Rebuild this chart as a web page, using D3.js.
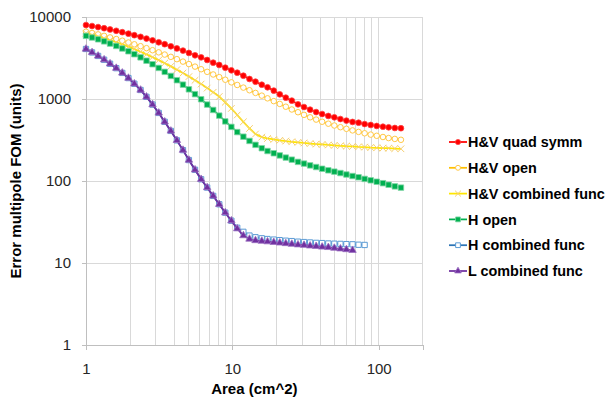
<!DOCTYPE html>
<html><head><meta charset="utf-8">
<script src="https://cdn.jsdelivr.net/npm/d3@7"></script>
<style>body{margin:0;background:#fff}svg{display:block}text{font-family:"Liberation Sans",Arial,sans-serif}</style>
</head><body><svg id="c" width="610" height="399"></svg>
<script>
const areas = [1, 1.1, 1.21, 1.33, 1.46, 1.61, 1.77, 1.95, 2.14, 2.36, 2.59, 2.85, 3.14, 3.45, 3.8, 4.18, 4.6, 5.05, 5.56, 6.12, 6.73, 7.4, 8.14, 8.95, 9.85, 10.8, 11.9, 13.1, 14.4, 15.9, 17.4, 19.2, 21.1, 23.2, 25.5, 28.1, 30.9, 34, 37.4, 41.1, 45.3, 49.8, 54.8, 60.2, 66.3, 72.9, 80.2, 88.2, 97, 107, 117, 129, 142];
const seriesNames = ["H&V quad symm", "H&V open", "H&V combined func", "H open", "H combined func", "L combined func"];
const hvQuadSymm = [7980, 7762, 7534, 7295, 7047, 6792, 6531, 6266, 5998, 5728, 5458, 5188, 4920, 4656, 4395, 4140, 3890, 3648, 3412, 3221, 2992, 2773, 2600, 2410, 2239, 2094, 1923, 1754, 1626, 1493, 1390, 1265, 1140, 1038, 955, 861, 798, 741, 693, 656, 621, 598, 570, 545, 525, 514, 495, 482, 469, 459, 452, 443, 440];
const hvOpen = [6622, 6383, 6138, 5888, 5636, 5383, 5140, 4887, 4645, 4406, 4169, 3936, 3707, 3483, 3266, 3062, 2858, 2667, 2483, 2307, 2143, 1991, 1849, 1718, 1596, 1483, 1377, 1279, 1186, 1099, 1019, 942, 871, 805, 745, 690, 641, 598, 561, 528, 500, 475, 453, 433, 414, 397, 382, 368, 356, 344, 334, 326, 318];
const hvCombined = [6324, 6053, 5781, 5495, 5212, 4920, 4634, 4345, 4055, 3776, 3499, 3236, 2979, 2735, 2500, 2280, 2070, 1875, 1690, 1521, 1358, 1208, 1072, 912, 767, 638, 527, 437, 374, 343, 330, 321, 313, 307, 301, 296, 291, 286, 282, 279, 275, 272, 269, 266, 264, 261, 259, 256, 254, 252, 251, 249, 247];
const hOpen = [5888, 5623, 5346, 5047, 4742, 4436, 4130, 3819, 3516, 3221, 2931, 2655, 2393, 2143, 1910, 1694, 1496, 1312, 1146, 993, 855, 735, 627, 533, 457, 395, 347, 308, 276, 251, 232, 218, 205, 193, 182, 171, 163, 155, 148, 141, 135, 130, 125, 120, 115, 111, 106, 102, 98, 94, 90, 86, 83];
const hCombined = [4074, 3698, 3350, 3013, 2692, 2377, 2080, 1799, 1535, 1288, 1062, 855, 676, 527, 408, 313, 238, 180, 137, 105, 83.2, 65.8, 52.0, 41.1, 32.8, 26.9, 24.0, 21.6, 20.6, 20.0, 19.6, 19.3, 19.0, 18.7, 18.5, 18.2, 18.0, 17.8, 17.6, 17.5, 17.3, 17.2, 17.1, 17.0, 16.9, 16.7, 16.6];
const lCombined = [4074, 3698, 3350, 3013, 2692, 2377, 2080, 1799, 1535, 1288, 1062, 855, 676, 527, 408, 313, 238, 180, 137, 105, 83.2, 65.8, 52.0, 41.1, 32.8, 26.2, 21.6, 19.6, 18.8, 18.5, 18.2, 17.9, 17.6, 17.3, 17.0, 16.7, 16.5, 16.2, 16.0, 15.7, 15.5, 15.2, 14.9, 14.6, 14.3];
const yTicks = [1, 10, 100, 1000, 10000];
const xTicks = [1, 10, 100];
const xGrid = [1,2,3,4,5,6,7,8,9,10,20,30,40,50,60,70,80,90,100,200];

const allValues = [hvQuadSymm, hvOpen, hvCombined, hOpen, hCombined, lCombined];
const styles = [
  {line:"#FF0000", shape:d3.symbolCircle, size:26, fill:"#FF0000", stroke:"#FF4040", sw:0.8},
  {line:"#FFC000", shape:d3.symbolCircle, size:24, fill:"#FFFFFF", stroke:"#FFC845", sw:1},
  {line:"#FFE600", shape:d3.symbolX, size:30, fill:"none", stroke:"#F6CF70", sw:1},
  {line:"#00B050", shape:d3.symbolSquare, size:30, fill:"#00B050", stroke:"#7FD6A3", sw:0.8},
  {line:"#2E75B6", shape:d3.symbolSquare, size:28, fill:"#FFFFFF", stroke:"#5B9BD5", sw:1},
  {line:"#7030A0", shape:d3.symbolTriangle, size:24, fill:"#7030A0", stroke:"#9A6FC0", sw:0.8}
];

const svg = d3.select("#c");
const L = 86, R = 422.7, T = 17, B = 345;
const x = d3.scaleLog().domain([1, 200]).range([L, R]);
const y = d3.scaleLog().domain([1, 10000]).range([B, T]);

// gridlines
svg.append("g").selectAll("line").data(xGrid).join("line")
  .attr("x1", d => x(d)).attr("x2", d => x(d)).attr("y1", T).attr("y2", B)
  .attr("stroke", "#D9D9D9").attr("stroke-width", 1).attr("shape-rendering","crispEdges");
svg.append("g").selectAll("line").data(yTicks).join("line")
  .attr("x1", L).attr("x2", R).attr("y1", d => y(d)).attr("y2", d => y(d))
  .attr("stroke", "#D9D9D9").attr("stroke-width", 1).attr("shape-rendering","crispEdges");

// axes
const yAxis = svg.append("g").attr("transform", `translate(${L},0)`)
  .call(d3.axisLeft(y).tickValues(yTicks).tickFormat(d3.format("d")).tickSize(4).tickPadding(11));
const xAxis = svg.append("g").attr("transform", `translate(0,${B})`)
  .call(d3.axisBottom(x).tickValues(xTicks).tickFormat(d3.format("d")).tickSize(5).tickPadding(13));
[yAxis, xAxis].forEach(a => {
  a.select(".domain").attr("stroke", "#BFBFBF").attr("shape-rendering","crispEdges");
  a.selectAll(".tick line").attr("stroke", "#BFBFBF").attr("shape-rendering","crispEdges");
  a.selectAll("text").attr("font-size", 15).attr("fill", "#262626").attr("font-family", '"Liberation Sans",Arial,sans-serif');
});

// series
const line = d3.line().x(d => x(d[0])).y(d => y(d[1]));
allValues.forEach((vals, k) => {
  const st = styles[k];
  const pts = vals.map((v, i) => [areas[i], v]);
  const g = svg.append("g");
  g.append("path").datum(pts).attr("d", line).attr("fill", "none")
    .attr("stroke", st.line).attr("stroke-width", 1.75);
  g.selectAll("path.m").data(pts).join("path").attr("class", "m")
    .attr("transform", d => `translate(${x(d[0])},${y(d[1])})`)
    .attr("d", d3.symbol(st.shape, st.size))
    .attr("fill", st.fill).attr("stroke", st.stroke).attr("stroke-width", st.sw);
});

// axis titles
svg.append("text").attr("x", (L + R) / 2).attr("y", 394).attr("text-anchor", "middle")
  .attr("font-size", 15).attr("font-weight", "bold").attr("fill", "#000").text("Area (cm^2)");
svg.append("text").attr("transform", `translate(21,${(T + B) / 2}) rotate(-90)`).attr("text-anchor", "middle")
  .attr("font-size", 15).attr("font-weight", "bold").attr("fill", "#000").text("Error multipole FOM (units)");

// legend
const lg = svg.append("g");
seriesNames.forEach((name, k) => {
  const st = styles[k];
  const cy = 142 + k * 25.8;
  lg.append("line").attr("x1", 449).attr("x2", 467).attr("y1", cy).attr("y2", cy)
    .attr("stroke", st.line).attr("stroke-width", 1.75);
  lg.append("path").attr("transform", `translate(458,${cy})`).attr("d", d3.symbol(st.shape, st.size * 0.8))
    .attr("fill", st.fill).attr("stroke", st.stroke).attr("stroke-width", st.sw);
  lg.append("text").attr("x", 468).attr("y", cy).attr("dy", "0.36em")
    .attr("font-size", 14.4).attr("font-weight", "bold").attr("fill", "#000").text(name);
});
</script></body></html>
